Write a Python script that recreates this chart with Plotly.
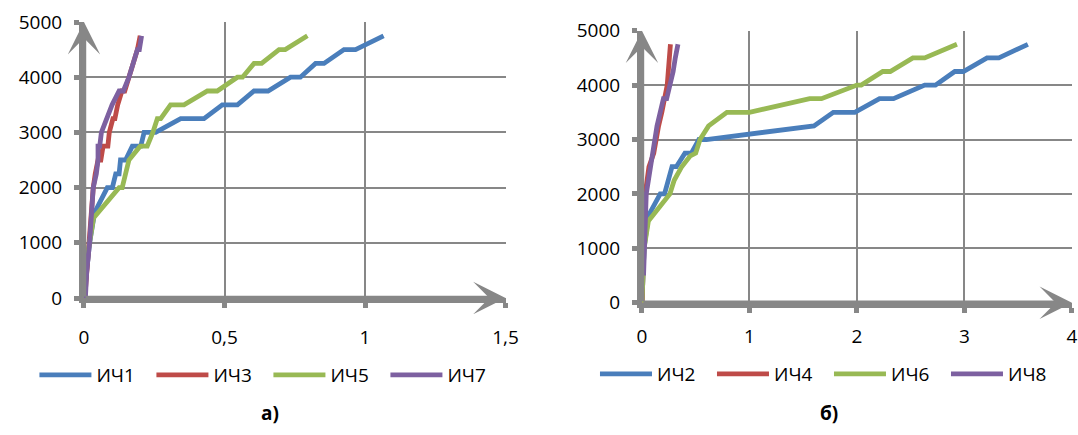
import plotly.graph_objects as go

# ---- data: left chart (а) ----
x_ich1 = [0, 0.02, 0.038, 0.083, 0.101, 0.113, 0.125, 0.13, 0.148, 0.172, 0.202, 0.214, 0.255, 0.344, 0.427, 0.492, 0.546, 0.605, 0.655, 0.735, 0.77, 0.824, 0.854, 0.925, 0.966, 1.066]
y_ich1 = [0, 1000, 1550, 2000, 2000, 2250, 2250, 2500, 2500, 2750, 2750, 3000, 3000, 3250, 3250, 3500, 3500, 3750, 3750, 4000, 4000, 4250, 4250, 4500, 4500, 4750]

x_ich3 = [0.003, 0.01, 0.018, 0.025, 0.033, 0.04, 0.05, 0.06, 0.068, 0.085, 0.09, 0.103, 0.11, 0.12, 0.135, 0.145, 0.16, 0.175, 0.19, 0.2]
y_ich3 = [0, 500, 1000, 1500, 2000, 2250, 2500, 2500, 2750, 2750, 3000, 3250, 3250, 3500, 3750, 3750, 4000, 4250, 4500, 4750]

x_ich5 = [0, 0.012, 0.034, 0.125, 0.136, 0.148, 0.16, 0.2, 0.225, 0.245, 0.261, 0.273, 0.308, 0.356, 0.439, 0.474, 0.546, 0.564, 0.605, 0.632, 0.694, 0.716, 0.795]
y_ich5 = [0, 750, 1450, 2000, 2000, 2250, 2500, 2750, 2750, 3000, 3250, 3250, 3500, 3500, 3750, 3750, 4000, 4000, 4250, 4250, 4500, 4500, 4750]

x_ich7 = [0.005, 0.01, 0.02, 0.026, 0.033, 0.044, 0.05, 0.05, 0.056, 0.062, 0.08, 0.1, 0.125, 0.14, 0.16, 0.175, 0.19, 0.197, 0.205]
y_ich7 = [0, 500, 1000, 1500, 2000, 2250, 2500, 2750, 2750, 3000, 3250, 3500, 3750, 3750, 4000, 4250, 4500, 4500, 4750]

# ---- data: right chart (б) ----
x_ich2 = [0, 0.02, 0.06, 0.17, 0.21, 0.25, 0.28, 0.32, 0.4, 0.46, 0.53, 0.6, 1.53, 1.6, 1.78, 1.98, 2.21, 2.34, 2.63, 2.73, 2.91, 2.99, 3.21, 3.32, 3.59]
y_ich2 = [0, 1000, 1600, 2000, 2000, 2250, 2500, 2500, 2750, 2750, 3000, 3000, 3250, 3250, 3500, 3500, 3750, 3750, 4000, 4000, 4250, 4250, 4500, 4500, 4750]

x_ich4 = [0.003, 0.008, 0.02, 0.03, 0.05, 0.065, 0.11, 0.13, 0.155, 0.185, 0.215, 0.235, 0.245, 0.25, 0.265]
y_ich4 = [0, 1000, 1500, 2000, 2250, 2500, 2750, 3000, 3250, 3500, 3750, 4000, 4250, 4500, 4750]

x_ich6 = [0, 0.005, 0.02, 0.06, 0.26, 0.3, 0.37, 0.45, 0.5, 0.54, 0.62, 0.79, 1.0, 1.56, 1.67, 2.0, 2.04, 2.24, 2.31, 2.52, 2.63, 2.93]
y_ich6 = [0, 400, 1000, 1500, 2000, 2250, 2500, 2700, 2750, 3000, 3250, 3500, 3500, 3750, 3750, 4000, 4000, 4250, 4250, 4500, 4500, 4750]

x_ich8 = [0.015, 0.02, 0.04, 0.06, 0.078, 0.1, 0.12, 0.14, 0.17, 0.2, 0.23, 0.265, 0.29, 0.31, 0.335]
y_ich8 = [500, 1000, 2000, 2250, 2500, 2750, 3000, 3250, 3500, 3750, 3750, 4000, 4250, 4500, 4750]

left_names = ["ИЧ1", "ИЧ3", "ИЧ5", "ИЧ7"]
right_names = ["ИЧ2", "ИЧ4", "ИЧ6", "ИЧ8"]
colors = ["#4A7EBB", "#BE4B48", "#98B954", "#7D60A0"]

left_x_ticks = [0, 0.5, 1, 1.5]
left_x_labels = ["0", "0,5", "1", "1,5"]
right_x_ticks = [0, 1, 2, 3, 4]
y_ticks = [0, 1000, 2000, 3000, 4000, 5000]

GRAY = "#878787"
FONT = "Open Sans"
FS = 19

fig = go.Figure()

left_data = [(x_ich1, y_ich1), (x_ich3, y_ich3), (x_ich5, y_ich5), (x_ich7, y_ich7)]
right_data = [(x_ich2, y_ich2), (x_ich4, y_ich4), (x_ich6, y_ich6), (x_ich8, y_ich8)]

for (xs, ys), name, c in zip(left_data, left_names, colors):
    fig.add_trace(go.Scatter(x=xs, y=ys, name=name, mode="lines",
                             line=dict(color=c, width=4.8), xaxis="x", yaxis="y",
                             legend="legend"))
for (xs, ys), name, c in zip(right_data, right_names, colors):
    fig.add_trace(go.Scatter(x=xs, y=ys, name=name, mode="lines",
                             line=dict(color=c, width=4.8), xaxis="x2", yaxis="y2",
                             legend="legend2"))

axis_common = dict(showgrid=True, gridcolor=GRAY, gridwidth=1.5, zeroline=False,
                   showline=True, linecolor=GRAY, linewidth=5,
                   ticks="outside", ticklen=5, tickwidth=5, tickcolor=GRAY,
                   tickfont=dict(family=FONT, size=FS, color="#000000"))

legend_common = dict(orientation="h", yanchor="middle", xanchor="center",
                     font=dict(family=FONT, size=FS, color="#000000"),
                     itemwidth=52, entrywidth=50, bgcolor="rgba(0,0,0,0)")

fig.update_layout(
    width=1078, height=435,
    margin=dict(l=0, r=0, t=0, b=0, autoexpand=False),
    paper_bgcolor="white", plot_bgcolor="white",
    xaxis=dict(domain=[0.0779, 0.469], range=[0, 1.5], tickvals=left_x_ticks,
               ticktext=left_x_labels, anchor="y", ticklabelstandoff=13, **axis_common),
    yaxis=dict(domain=[0.3149, 0.9494], range=[0, 5000], tickvals=y_ticks,
               anchor="x", ticklabelstandoff=8, **axis_common),
    xaxis2=dict(domain=[0.5955, 0.9944], range=[0, 4], tickvals=right_x_ticks,
                anchor="y2", ticklabelstandoff=7, **axis_common),
    yaxis2=dict(domain=[0.3041, 0.9294], range=[0, 5000], tickvals=y_ticks,
                anchor="x2", ticklabelstandoff=8, **axis_common),
    legend=dict(x=0.249, y=1 - 375 / 435, **legend_common),
    legend2=dict(x=0.769, y=1 - 374 / 435, **legend_common),
    showlegend=True,
)

# axis arrows
arrows = [
    ("x", "y", 0, 0, 0, 5000),
    ("x", "y", 0, 0, 1.5, 0),
    ("x2", "y2", 0, 0, 0, 5000),
    ("x2", "y2", 0, 0, 4, 0),
]
for xr, yr, ax0, ay0, x1, y1 in arrows:
    fig.add_annotation(xref=xr, yref=yr, axref=xr, ayref=yr, x=x1, y=y1, ax=ax0, ay=ay0,
                       text="", showarrow=True, arrowhead=3, arrowwidth=4.5,
                       arrowsize=1.2, arrowcolor=GRAY)

# captions
fig.add_annotation(xref="paper", yref="paper", x=270 / 1078, y=1 - 413 / 435,
                   text="<b>а)</b>", showarrow=False, xanchor="center", yanchor="middle",
                   font=dict(family=FONT, size=FS, color="#000000"))
fig.add_annotation(xref="paper", yref="paper", x=829 / 1078, y=1 - 413 / 435,
                   text="<b>б)</b>", showarrow=False, xanchor="center", yanchor="middle",
                   font=dict(family=FONT, size=FS, color="#000000"))

fig.write_html("out.html")
